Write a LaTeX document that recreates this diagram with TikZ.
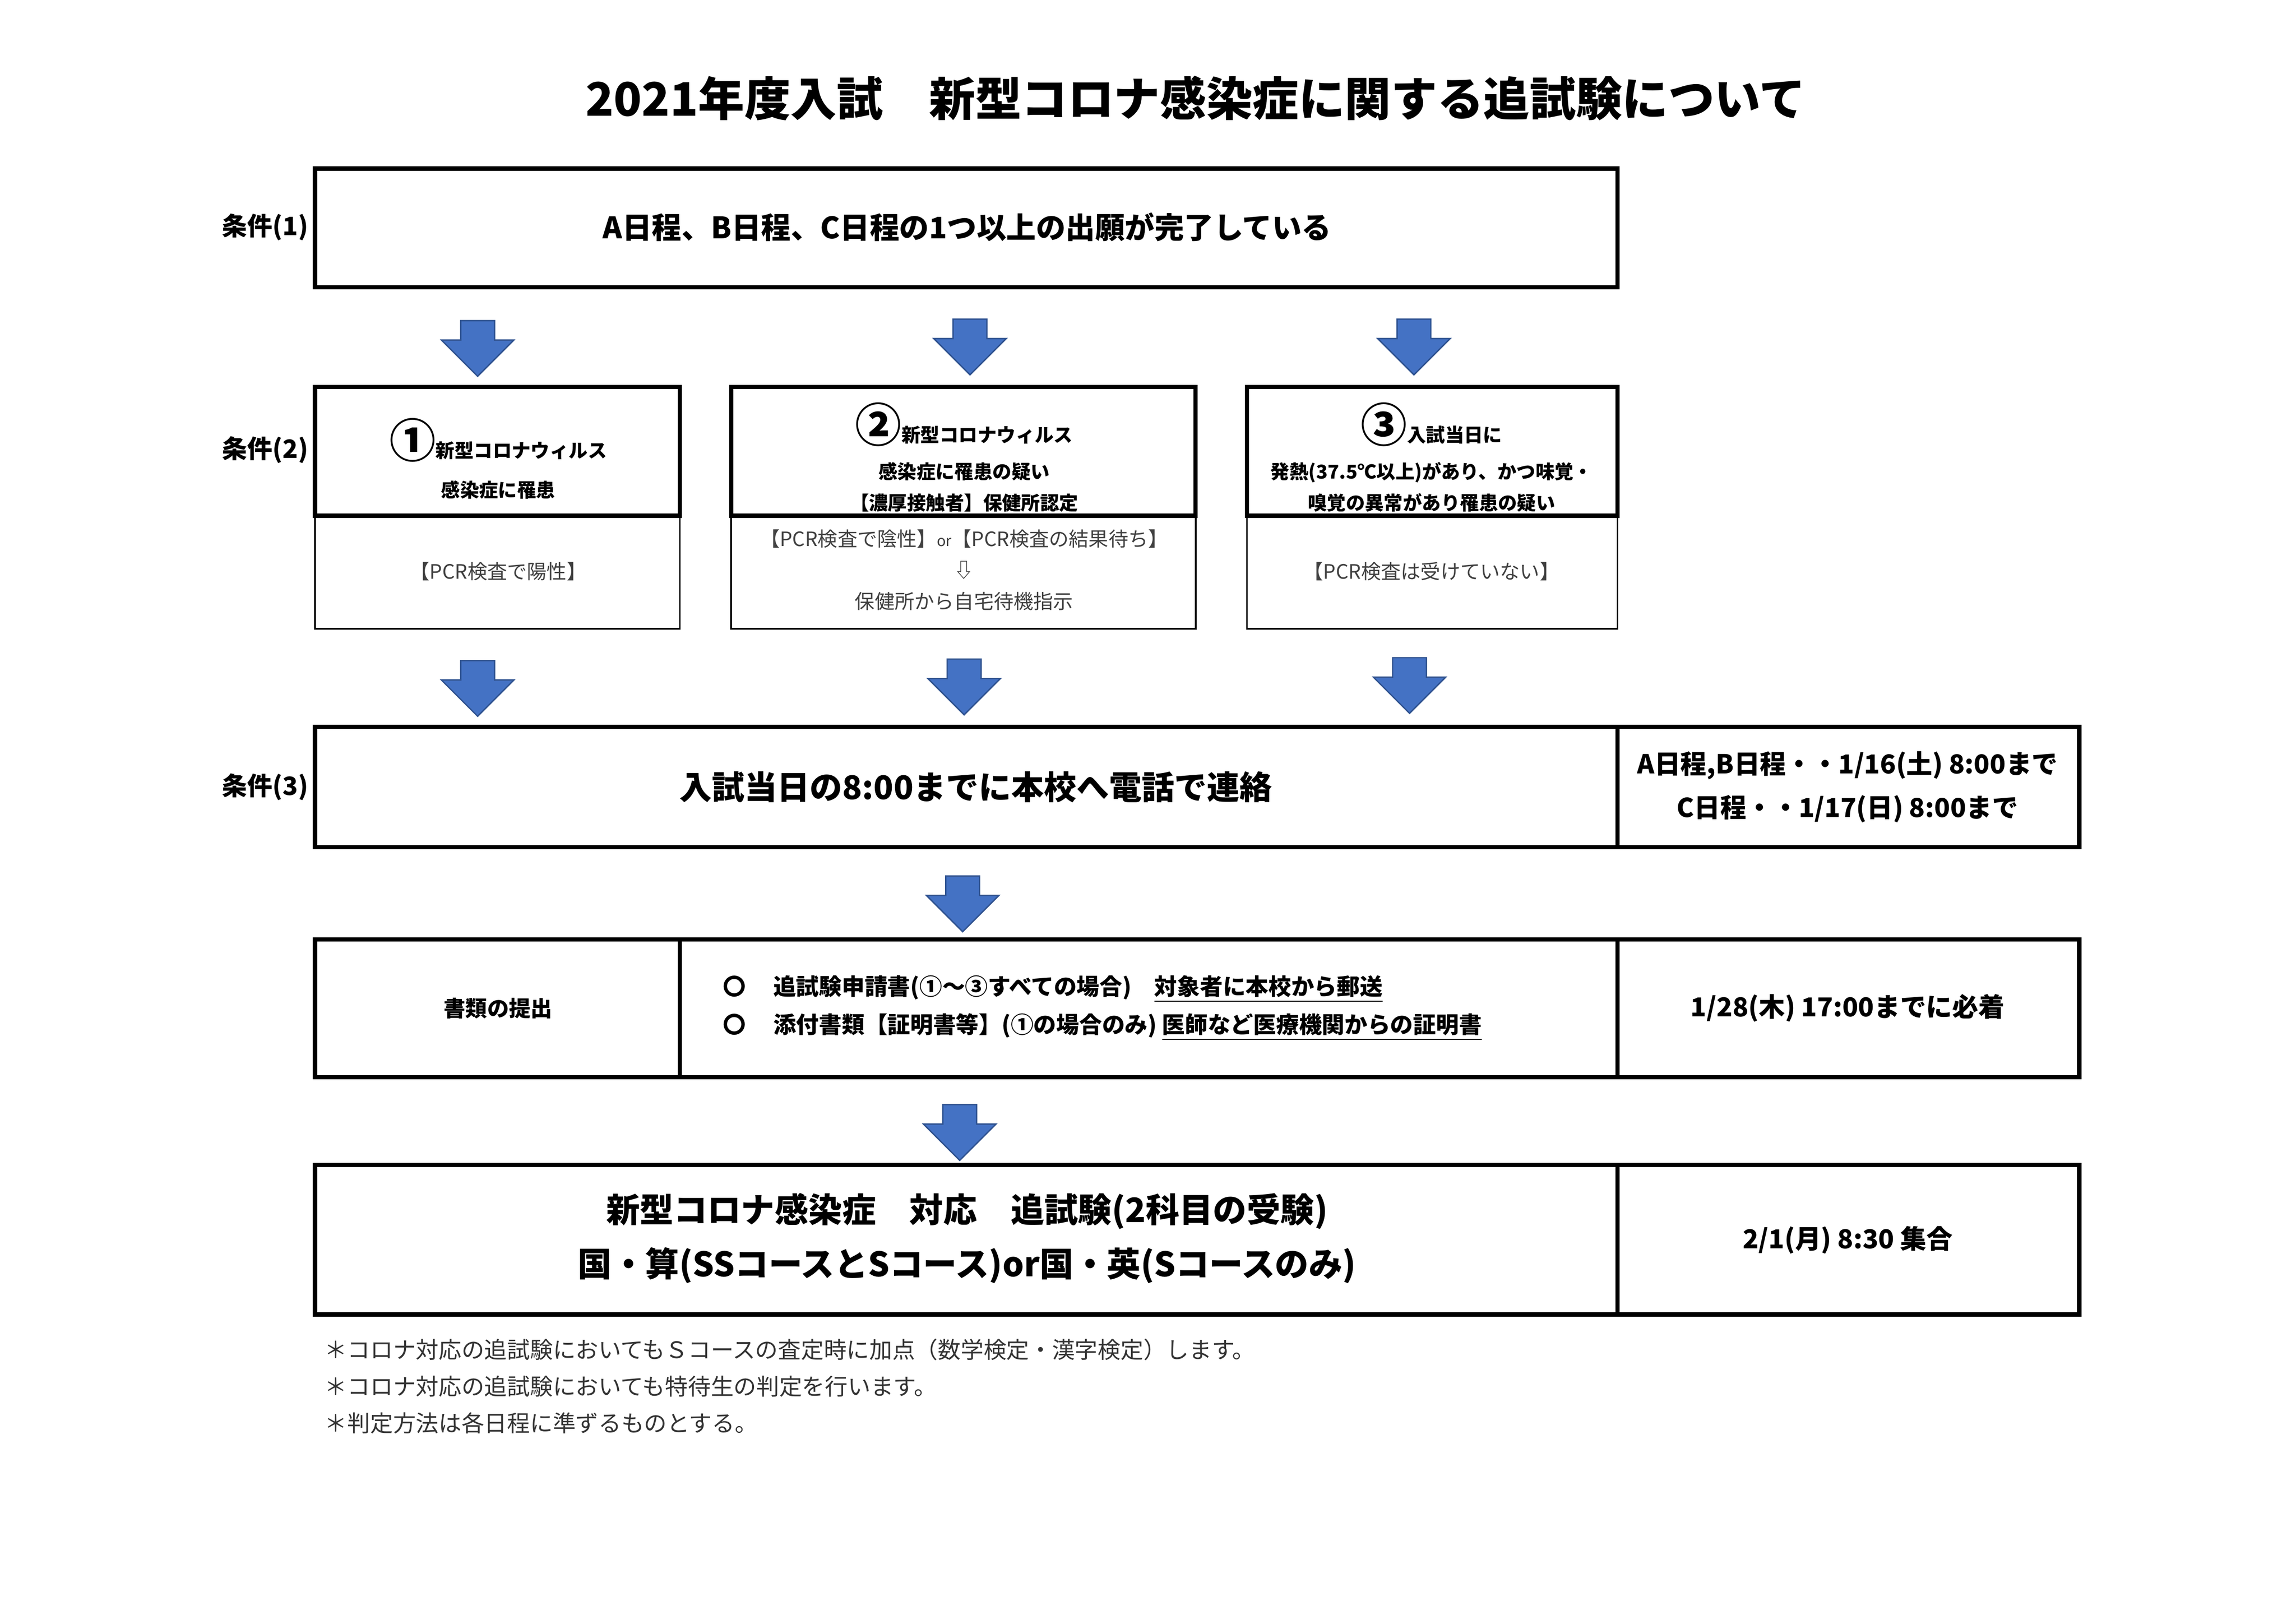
\documentclass[tikz,border=0pt]{standalone}
\usepackage{fontspec}
\setmainfont{Noto Sans CJK JP}
\usepackage{tikz}
\usetikzlibrary{shapes.arrows,positioning}
\definecolor{arrowblue}{HTML}{4472C4}
\definecolor{arrowedge}{HTML}{2F528F}

\begin{document}
\begin{tikzpicture}[x=0.1895mm,y=-0.1895mm]
                \tikzset{Box/.style={%
                    draw=black,%
                    line width=1.6pt,%
                },
                Thin/.style={%
                    draw=black,%
                    line width=0.6pt,%
                },
                Down/.style={%
                    single arrow,%
                    draw=arrowedge,%
                    fill=arrowblue,%
                    line width=0.5pt,%
                    rotate=-90,%
                    minimum height=7.2mm,%
                    minimum width=9.2mm,%
                    inner xsep=0pt,%
                    inner ysep=2.1mm,%
                    single arrow head extend=2.5mm,%
                    single arrow head indent=0pt,%
                },
                Cond/.style={font=\bfseries\fontsize{9.3}{11}\selectfont},
                Big/.style={font=\bfseries\fontsize{10.9}{14}\selectfont, align=center},
                Small/.style={font=\bfseries\fontsize{7}{11.5}\selectfont, align=center},
                Plain/.style={font=\fontsize{7.3}{11.5}\selectfont, align=center, text=black!75},
                }
                \useasboundingbox (0,0) rectangle (1567,1108);

                \node[font=\bfseries\fontsize{17}{20}\selectfont] (title) at (816,67) {2021年度入試\hspace{1em}新型コロナ感染症に関する追試験について};

                % condition 1
                \draw[Box] (215,115) rectangle (1104,196);
                \node[Big] (c1) at (660,155) {A日程、B日程、C日程の1つ以上の出願が完了している};
                \node[Cond] (l1) at (181,155) {条件(1)};

                \node[Down] (a11) at (326,232) {};
                \node[Down] (a12) at (662,231) {};
                \node[Down] (a13) at (965,231) {};

                % condition 2
                \node[Cond] (l2) at (181,307) {条件(2)};
                \draw[Thin] (215,352) rectangle (464,429);
                \draw[Thin] (499,352) rectangle (816,429);
                \draw[Thin] (851,352) rectangle (1104,429);
                \draw[Box] (215,264) rectangle (464,352);
                \draw[Box] (499,264) rectangle (816,352);
                \draw[Box] (851,264) rectangle (1104,352);
                \node[Small] (k1) at (340,313) {{\fontsize{17}{17}\selectfont ①}新型コロナウィルス\\[3pt]感染症に罹患};
                \node[Small] (k2) at (658,312) {{\fontsize{17}{17}\selectfont ②}新型コロナウィルス\\[2pt]感染症に罹患の疑い\\【濃厚接触者】保健所認定};
                \node[Small] (k3) at (977,312) {{\fontsize{17}{17}\selectfont ③}入試当日に\\[2pt]発熱(37.5℃以上)があり、かつ味覚・\\嗅覚の異常があり罹患の疑い};
                \node[Plain] (p1) at (340,390) {【PCR検査で陽性】};
                \node[Plain] (p2) at (658,389) {【PCR検査で陰性】{\fontsize{5.5}{5}\selectfont or}【PCR検査の結果待ち】\\⇩\\保健所から自宅待機指示};
                \node[Plain] (p3) at (977,390) {【PCR検査は受けていない】};

                \node[Down] (a21) at (326,464) {};
                \node[Down] (a22) at (658,463) {};
                \node[Down] (a23) at (962,462) {};

                % condition 3
                \node[Cond] (l3) at (181,537) {条件(3)};
                \draw[Box] (215,496) rectangle (1104,578);
                \draw[Box] (1104,496) rectangle (1419,578);
                \node[Big, font=\bfseries\fontsize{12}{14}\selectfont] (c3) at (666,537) {入試当日の8:00までに本校へ電話で連絡};
                \node[Cond, align=center, font=\bfseries\fontsize{9.6}{16}\selectfont] (d3) at (1261,537) {A日程,B日程・・1/16(土) 8:00まで\\C日程・・1/17(日) 8:00まで};

                \node[Down] (a3) at (657,611) {};

                % documents
                \draw[Box] (215,641) rectangle (464,735);
                \draw[Box] (464,641) rectangle (1104,735);
                \draw[Box] (1104,641) rectangle (1419,735);
                \node[Small, font=\bfseries\fontsize{8}{11}\selectfont] (doc) at (340,688) {書類の提出};
                \node[Small, font=\bfseries\fontsize{8.4}{14}\selectfont, align=left, anchor=west] (docs) at (487,688)
                    {〇\hspace{1.2em}追試験申請書(①～③すべての場合)\hspace{1em}\underline{対象者に本校から郵送}\\〇\hspace{1.2em}添付書類【証明書等】(①の場合のみ) \underline{医師など医療機関からの証明書}};
                \node[Cond, font=\bfseries\fontsize{9.6}{11}\selectfont] (dd) at (1261,688) {1/28(木) 17:00までに必着};

                \node[Down] (a4) at (655,767) {};

                % final
                \draw[Box] (215,795) rectangle (1104,897);
                \draw[Box] (1104,795) rectangle (1419,897);
                \node[Big, font=\bfseries\fontsize{12.4}{20}\selectfont] (fin) at (660,845) {新型コロナ感染症\hspace{1em}対応\hspace{1em}追試験(2科目の受験)\\国・算(SSコースとSコース)or国・英(Sコースのみ)};
                \node[Cond, font=\bfseries\fontsize{9.6}{11}\selectfont] (fd) at (1261,846) {2/1(月) 8:30 集合};

                % notes
                \node[anchor=west, align=left, font=\fontsize{8.4}{13.5}\selectfont, text=black!80] (notes) at (215,946)
                    {＊コロナ対応の追試験においてもＳコースの査定時に加点（数学検定・漢字検定）します。\\＊コロナ対応の追試験においても特待生の判定を行います。\\＊判定方法は各日程に準ずるものとする。};
            \end{tikzpicture}
\end{document}
